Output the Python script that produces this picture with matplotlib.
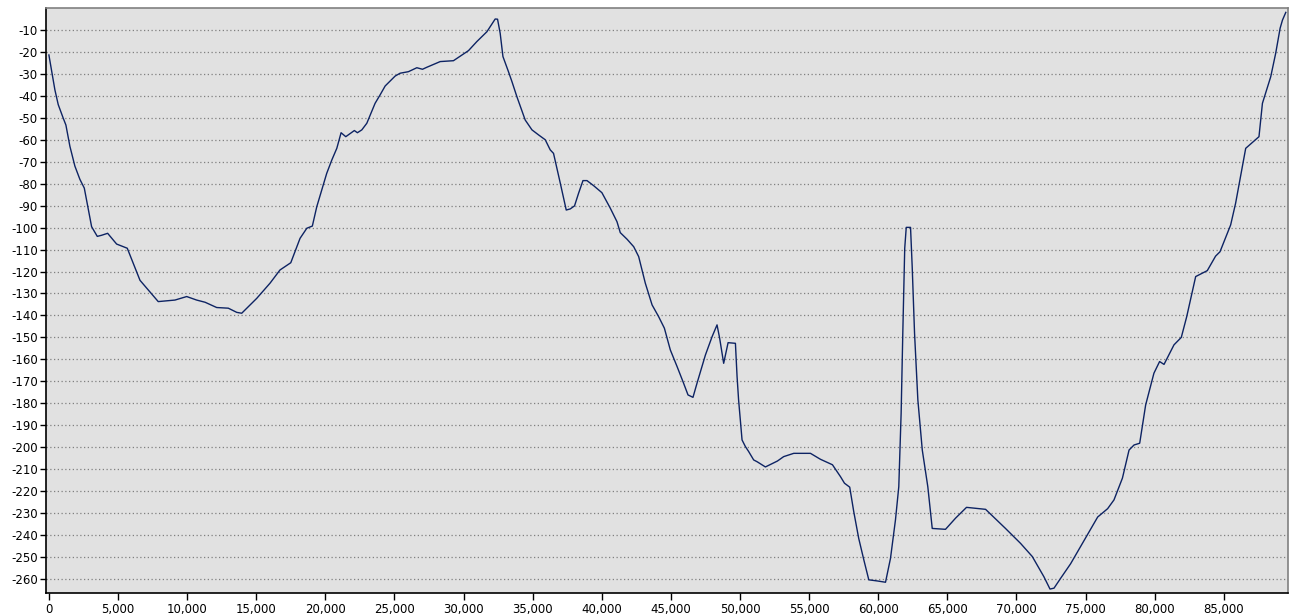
import matplotlib
matplotlib.use("Agg")
import matplotlib.pyplot as plt
from matplotlib.ticker import FuncFormatter

plt.rcParams["axes.unicode_minus"] = False

# values
x_vals = [0, 434, 675, 1038, 1230, 1520, 1880, 2240, 2560, 3090, 3500, 3810, 4250,
          4900, 5670, 6590, 7910, 9120, 9970, 10690, 11300, 12140, 12980, 13590, 13950,
          15040, 16000, 16720, 17500, 18170, 18660, 19060, 19380, 19740, 20100, 20470,
          20830, 21140, 21480, 22100, 22320, 22640, 23000, 23600, 23960, 24330, 25050,
          25410, 26010, 26620, 27030, 27340, 28310, 29270, 29880, 30360, 30960, 31690,
          32290, 32460, 32650, 32850, 33250, 33500, 33860, 34460, 34950, 35430, 35910,
          36270, 36510, 37000, 37430, 37720, 38030, 38320, 38640, 38930, 39410, 40010,
          40620, 41100, 41340, 41830, 42310, 42670, 43150, 43640, 44110, 44530, 44960,
          45450, 45880, 46240, 46600, 46890, 47500, 47980, 48340, 48530, 48820, 49140,
          49670, 49790, 49900, 50150, 50390, 50630, 50990, 51260, 51840, 52710, 53160,
          53890, 55100, 55820, 56690, 57270, 57560, 57940, 58230, 58590, 58960, 59320,
          59920, 60530, 60890, 61250, 61490, 61660, 61780, 61920, 62030, 62340, 62460,
          62630, 62870, 63190, 63590, 63910, 64870, 65600, 66390, 67770, 69210, 70300,
          71150, 71990, 72430, 72720, 73200, 73920, 74640, 75230, 75880, 76600, 77060,
          77670, 78150, 78510, 78920, 79350, 79950, 80360, 80680, 81400, 81930, 82320,
          82970, 83810, 84410, 84730, 85500, 85860, 86590, 87550, 87800, 88400, 88760,
          89080, 89250, 89490]
y_vals = [-21.4, -37.3, -44, -50.2, -53.3, -63, -72, -78, -82, -99.6, -104, -103.5, -102.6,
          -107.5, -109.4, -124, -133.7, -133, -131.4, -133, -134, -136.4, -136.7, -138.6, -139,
          -132.2, -125.3, -119.3, -116, -104.9, -100.3, -99.3, -90.5, -82.9, -75.3, -69.2,
          -63.9, -56.8, -58.6, -55.8, -56.8, -55.5, -52.5, -43.4, -39.6, -35.5, -31,
          -29.7, -29, -27.2, -27.9, -27, -24.4, -24, -21.4, -19.4, -15.3, -10.8,
          -5, -5.1, -11.5, -22.1, -29, -33.5, -40.4, -51, -55.5, -57.8, -60,
          -64.6, -66.2, -79.8, -92, -91.5, -90.1, -84.4, -78.6, -78.6, -80.9, -84.1,
          -91.2, -97.3, -102.3, -105.3, -108.7, -113.2, -125.3, -135.2, -140.5, -145.8, -155.7,
          -163.3, -170.2, -176.2, -177.3, -170.9, -158, -149.7, -144.3, -150.4, -161.8, -152.4,
          -152.7, -167.9, -178.5, -196.7, -199.7, -202, -205.8, -206.7, -209, -206.3, -204.3,
          -202.8, -202.8, -205.5, -208, -213.4, -216.4, -218.2, -229.3, -241.5, -251.3, -260.4,
          -260.9, -261.5, -250.6, -233.1, -218, -184.5, -148.1, -109.4, -99.9, -99.9, -117.8,
          -148.1, -178.5, -201.3, -218, -237, -237.4, -232.3, -227.4, -228.3, -237, -243.8,
          -249.8, -259, -264.6, -264.2, -259.7, -253.1, -245.3, -239, -231.8, -228, -224,
          -214.1, -201.3, -199, -198.2, -180.8, -166.3, -161, -162.3, -153.4, -150, -140.6,
          -122.3, -119.6, -113, -111, -98.8, -88.9, -63.9, -58.6, -43.4, -31.3, -20.6,
          -9.2, -5.5, -2]

x_ticks = list(range(0, 90000, 5000))
y_ticks = list(range(-260, 0, 10))

fig = plt.figure(figsize=(13.03, 6.15), dpi=100)
ax = fig.add_axes([46 / 1303, 22 / 615, 1242 / 1303, 585 / 615])
ax.set_facecolor("#e1e1e1")

ax.plot(x_vals, y_vals, color="#0d2363", linewidth=1.0)

ax.set_xlim(-210, 89650)
ax.set_ylim(-266.4, 0)
ax.set_xticks(x_ticks)
ax.set_yticks(y_ticks)
ax.xaxis.set_major_formatter(FuncFormatter(lambda v, p: "{:,.0f}".format(v)))

ax.grid(axis="y", color="#808080", linestyle=(0, (1, 2)), linewidth=0.9)
ax.set_axisbelow(True)

for side in ["left", "bottom"]:
    ax.spines[side].set_color("black")
    ax.spines[side].set_linewidth(1.2)
for side in ["top", "right"]:
    ax.spines[side].set_color("#808080")
    ax.spines[side].set_linewidth(1.2)

ax.tick_params(axis="both", labelsize=8.5, colors="black", length=4, width=1, pad=2)
ax.tick_params(axis="x", length=5)

fig.savefig("out.png", dpi=100)
